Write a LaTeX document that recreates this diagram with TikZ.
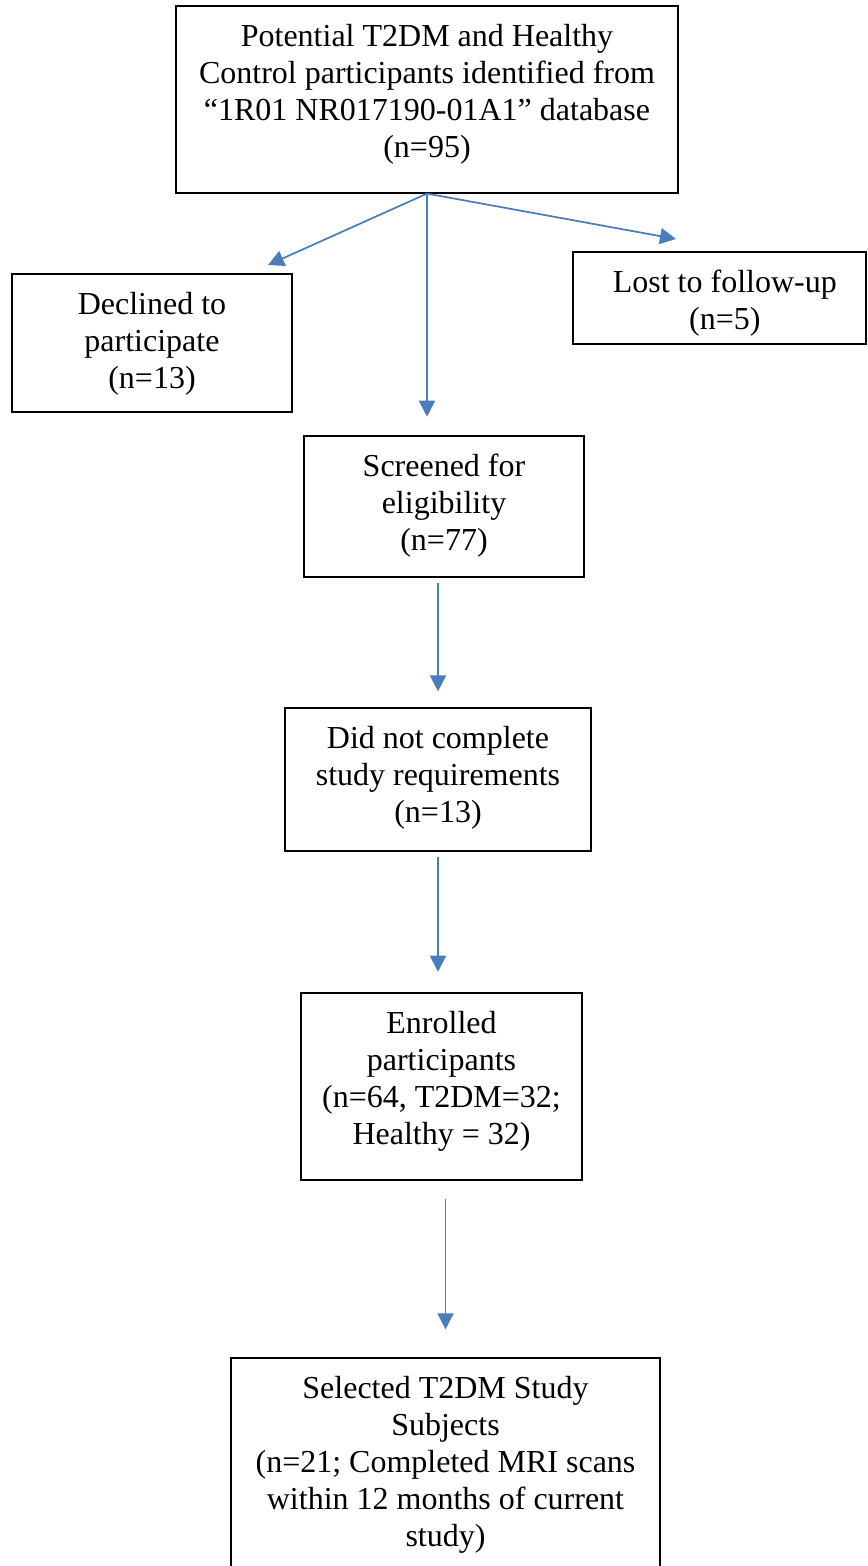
\documentclass[tikz,border=0pt]{standalone}
\usepackage{fontspec}
\setmainfont{Liberation Serif}
\usetikzlibrary{positioning,arrows.meta}
\definecolor{arrblue}{RGB}{74,126,187}
\tikzset{
  box/.style={draw, line width=0.9pt, inner sep=0pt},
  txt/.style={align=center, inner sep=0pt, font=\fontsize{24}{27.75}\selectfont},
  arr/.style={draw=arrblue, line width=1.3pt, -{Triangle[width=12pt,length=12pt]}}
}
\begin{document}
\begin{tikzpicture}[x=0.75pt,y=-0.75pt]
        % the page (pixels, y going down); sizes below are in pt (= px * 0.75)
        \useasboundingbox (0,0) rectangle (867,1566);
        %% the boxes
        \node[box, minimum width=376.5pt, minimum height=140.25pt] (top)    at (427,99.5)  {};
        \node[box, minimum width=210pt,   minimum height=103.5pt]  (decl)   at (152,343)   {};
        \node[box, minimum width=219.75pt,minimum height=69pt]     (lost)   at (719.5,298) {};
        \node[box, minimum width=210pt,   minimum height=105.75pt] (screen) at (444,506.5) {};
        \node[box, minimum width=229.5pt, minimum height=107.25pt] (notc)   at (438,779.5) {};
        \node[box, minimum width=210.75pt,minimum height=140.25pt] (enrol)  at (441.5,1086.5) {};
        \node[box, minimum width=321.75pt,minimum height=187.5pt]  (sel)    at (445.5,1483) {}; % runs off the page
        %% the texts, hung from the top of each box
        \node[txt, below=14pt of top.north] (toptxt)
          {Potential T2DM and Healthy\\Control participants identified from\\``1R01 NR017190-01A1'' database\\(n=95)};
        \node[txt, below=14pt of decl.north] (decltxt) {Declined to\\participate\\(n=13)};
        \node[txt, below=14pt of lost.north, xshift=4pt] (losttxt) {Lost to follow-up\\(n=5)};
        \node[txt, below=14pt of screen.north] (screentxt) {Screened for\\eligibility\\(n=77)};
        \node[txt, below=14pt of notc.north] (notctxt) {Did not complete\\study requirements\\(n=13)};
        \node[txt, below=14pt of enrol.north] (enroltxt) {Enrolled\\participants\\(n=64, T2DM=32;\\Healthy = 32)};
        \node[txt, below=14pt of sel.north] (seltxt)
          {Selected T2DM Study\\Subjects\\(n=21; Completed MRI scans\\within 12 months of current\\study)};
        %% the arrows
        \coordinate (declin) at (268,265);
        \coordinate (lostin) at (676,239);
        \draw[arr] (top.south) -- (declin);
        \draw[arr] (top.south) -- (lostin);
        \draw[arr, shorten >=14pt] (top.south) -- (top.south |- screen.north);
        \draw[arr, shorten <=4pt, shorten >=12pt] (screen.south -| notc.north) -- (notc.north);
        \draw[arr, shorten <=4pt, shorten >=15.5pt] (notc.south) -- (notc.south |- enrol.north);
        \draw[arr, shorten <=14pt, shorten >=21pt] (enrol.south -| sel.north) -- (sel.north);
      \end{tikzpicture}
\end{document}
